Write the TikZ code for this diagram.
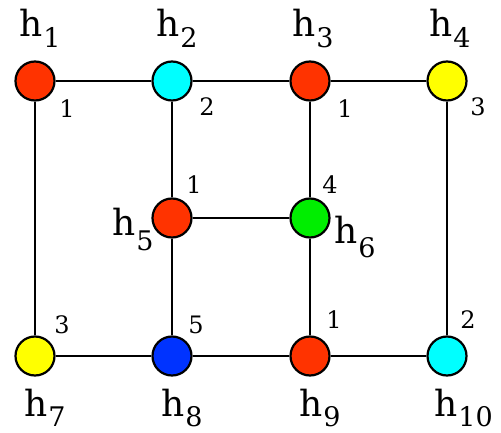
\documentclass[tikz,border=0pt]{standalone}
\usepackage{fontspec}
\setmainfont{DejaVu Serif}
\begin{document}
\begin{tikzpicture}[x=1pt,y=-1pt,
  vert/.style={circle,draw=black,line width=2.2pt,minimum size=39pt,inner sep=0pt},
  edge/.style={line width=2.2pt},
  hlab/.style={anchor=base west,inner sep=0pt,font=\fontsize{36}{40}\selectfont},
  num/.style={inner sep=0pt,font=\fontsize{24}{26}\selectfont}]
\definecolor{cred}{HTML}{FF3300}
\definecolor{ccyan}{HTML}{00FFFF}
\definecolor{cyel}{HTML}{FFFF00}
\definecolor{cgreen}{HTML}{00EE00}
\definecolor{cblue}{HTML}{0033FF}
\useasboundingbox (0,0) rectangle (501,433);
\newcommand{\hsub}[2]{h\kern1pt\raisebox{-#2pt}[0pt][0pt]{\fontsize{27}{30}\selectfont #1}}
% vertices
\node[vert,fill=cred]   (h1)  at (35,81) {};
\node[vert,fill=ccyan]  (h2)  at (172,81) {};
\node[vert,fill=cred]   (h3)  at (310,81) {};
\node[vert,fill=cyel]   (h4)  at (447,81) {};
\node[vert,fill=cred]   (h5)  at (172,218) {};
\node[vert,fill=cgreen] (h6)  at (310,218) {};
\node[vert,fill=cyel]   (h7)  at (35,356) {};
\node[vert,fill=cblue]  (h8)  at (172,356) {};
\node[vert,fill=cred]   (h9)  at (310,356) {};
\node[vert,fill=ccyan]  (h10) at (447,356) {};
% edges
\draw[edge] (h1) -- (h2);
\draw[edge] (h2) -- (h3);
\draw[edge] (h3) -- (h4);
\draw[edge] (h1) -- (h7);
\draw[edge] (h2) -- (h5);
\draw[edge] (h3) -- (h6);
\draw[edge] (h4) -- (h10);
\draw[edge] (h5) -- (h6);
\draw[edge] (h5) -- (h8);
\draw[edge] (h6) -- (h9);
\draw[edge] (h7) -- (h8);
\draw[edge] (h8) -- (h9);
\draw[edge] (h9) -- (h10);
% name labels
\node[hlab] (l1)  at (19,37)   {\hsub{1}{11}};
\node[hlab] (l2)  at (156,37)  {\hsub{2}{11}};
\node[hlab] (l3)  at (292,37)  {\hsub{3}{11}};
\node[hlab] (l4)  at (429,37)  {\hsub{4}{11}};
\node[hlab] (l5)  at (112,235) {\hsub{5}{16}};
\node[hlab] (l6)  at (334,243) {\hsub{6}{15}};
\node[hlab] (l7)  at (24,416)  {\hsub{7}{10}};
\node[hlab] (l8)  at (161,416) {\hsub{8}{10}};
\node[hlab] (l9)  at (299,416) {\hsub{9}{10}};
\node[hlab] (l10) at (434,416) {\hsub{10}{10}};
% number labels
\node[num] (n1)  at (67,109)  {1};
\node[num] (n2)  at (207,107) {2};
\node[num] (n3)  at (345,109) {1};
\node[num] (n4)  at (478,107) {3};
\node[num] (n5)  at (194,185) {1};
\node[num] (n6)  at (330,185) {4};
\node[num] (n7)  at (62,325)  {3};
\node[num] (n8)  at (196,325) {5};
\node[num] (n9)  at (334,320) {1};
\node[num] (n10) at (468,320) {2};
\end{tikzpicture}
\end{document}
